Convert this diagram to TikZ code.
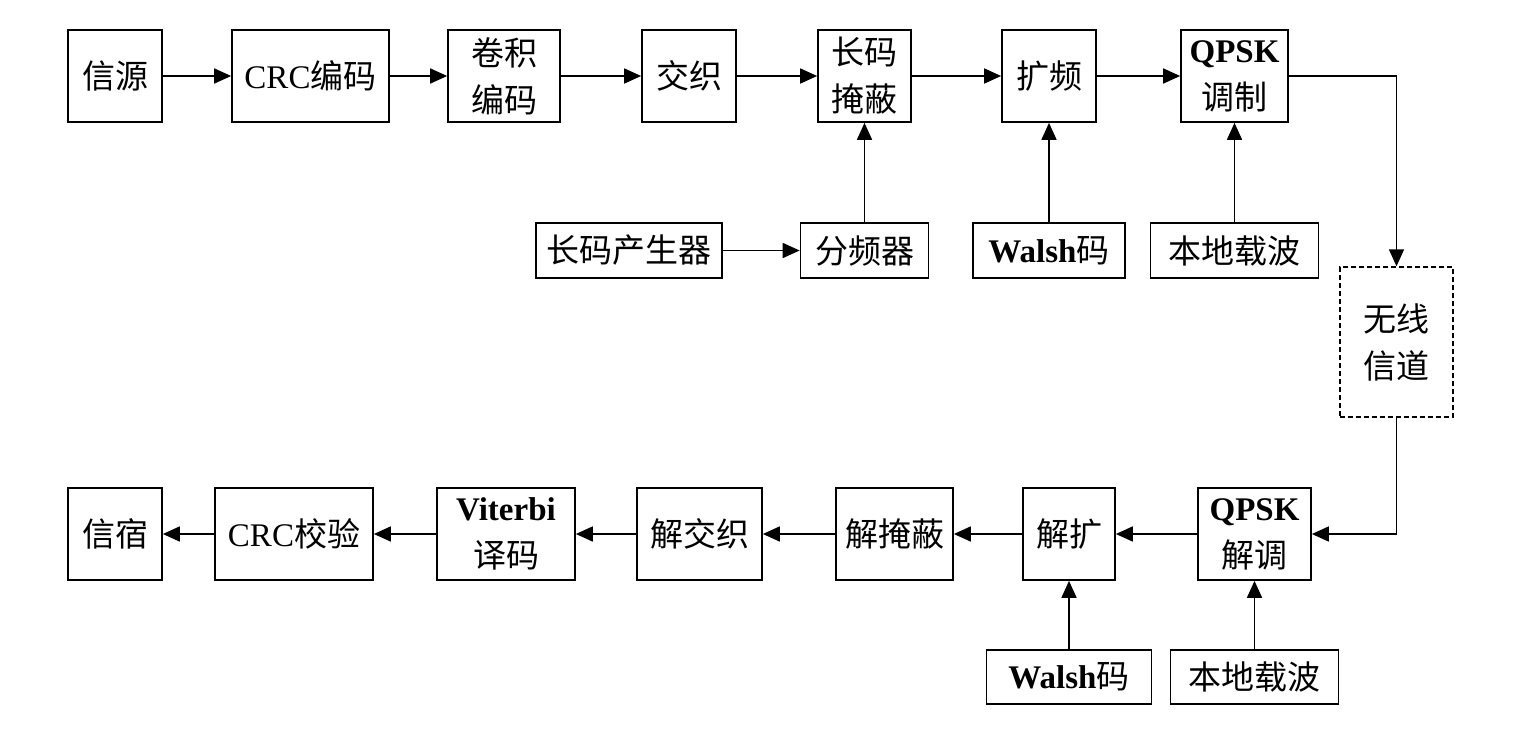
\documentclass[tikz,border=0pt]{standalone}
\usepackage{fontspec}
\setmainfont{Liberation Serif}
\newfontfamily\cjk{Noto Sans CJK SC}
\usetikzlibrary{arrows.meta}
\newcommand\la[1]{{\rmfamily #1}}
\newcommand\lb[1]{{\rmfamily\bfseries #1}}
\begin{document}
\begin{tikzpicture}[x=1pt,y=-1pt,
  blk/.style={draw, line width=1.7pt, inner sep=0pt, align=center,
    font=\cjk\fontsize{33}{47}\selectfont},
  arr/.style={line width=1.7pt, -{Triangle[length=17pt,width=15pt]}},
  ln/.style={line width=1.7pt}]
\useasboundingbox (0,0) rectangle (1528,736);
\fill[white] (0,0) rectangle (1528,736);
% top row
\node[blk, minimum width=94pt, minimum height=92pt] (src) at (115,76) {信源};
\node[blk, minimum width=157pt, minimum height=92pt] (crc) at (310.5,76) {\la{CRC}编码};
\node[blk, minimum width=112pt, minimum height=92pt] (conv) at (504,76) {卷积\\编码};
\node[blk, minimum width=94pt, minimum height=92pt] (intl) at (689,76) {交织};
\node[blk, minimum width=93pt, minimum height=92pt] (mask) at (864.5,76) {长码\\掩蔽};
\node[blk, minimum width=94pt, minimum height=92pt] (spr) at (1049,76) {扩频};
\node[blk, minimum width=107pt, minimum height=92pt] (qmod) at (1234.5,76) {\lb{QPSK}\\调制};
% second row
\node[blk, minimum width=186pt, minimum height=55pt] (lcg) at (629,250.5) {长码产生器};
\node[blk, minimum width=128pt, minimum height=55pt] (div) at (864.5,250.5) {分频器};
\node[blk, minimum width=152pt, minimum height=55pt] (wa1) at (1049,250.5) {\lb{Walsh}码};
\node[blk, minimum width=168pt, minimum height=55pt] (lo1) at (1234.5,250.5) {本地载波};
% channel
\node[blk, dashed, dash pattern=on 5pt off 3pt, line width=1.4pt, minimum width=113pt, minimum height=150pt] (ch) at (1396.5,342) {无线\\信道};
% bottom row
\node[blk, minimum width=94pt, minimum height=92pt] (sink) at (115,534) {信宿};
\node[blk, minimum width=158pt, minimum height=92pt] (crcc) at (294,534) {\la{CRC}校验};
\node[blk, minimum width=138pt, minimum height=92pt] (vit) at (506,534) {\lb{Viterbi}\\译码};
\node[blk, minimum width=125pt, minimum height=92pt] (dint) at (699.5,534) {解交织};
\node[blk, minimum width=117pt, minimum height=92pt] (dmask) at (894.5,534) {解掩蔽};
\node[blk, minimum width=92pt, minimum height=92pt] (dspr) at (1069,534) {解扩};
\node[blk, minimum width=113pt, minimum height=92pt] (qdem) at (1254.5,534) {\lb{QPSK}\\解调};
% fourth row
\node[blk, minimum width=165pt, minimum height=54pt] (wa2) at (1069,677) {\lb{Walsh}码};
\node[blk, minimum width=168pt, minimum height=54pt] (lo2) at (1254.5,677) {本地载波};
% connectors
\draw[arr] (src) -- (crc);
\draw[arr] (crc) -- (conv);
\draw[arr] (conv) -- (intl);
\draw[arr] (intl) -- (mask);
\draw[arr] (mask) -- (spr);
\draw[arr] (spr) -- (qmod);
\draw[arr] (qmod.east) -| (ch.north);
\draw[arr] (lcg) -- (div);
\draw[arr] (div) -- (mask);
\draw[arr] (wa1) -- (spr);
\draw[arr] (lo1) -- (qmod);
\draw[arr] (ch.south) |- (qdem.east);
\draw[arr] (qdem) -- (dspr);
\draw[arr] (dspr) -- (dmask);
\draw[arr] (dmask) -- (dint);
\draw[arr] (dint) -- (vit);
\draw[arr] (vit) -- (crcc);
\draw[arr] (crcc) -- (sink);
\draw[arr] (wa2) -- (dspr);
\draw[arr] (lo2) -- (qdem);
\end{tikzpicture}
\end{document}
